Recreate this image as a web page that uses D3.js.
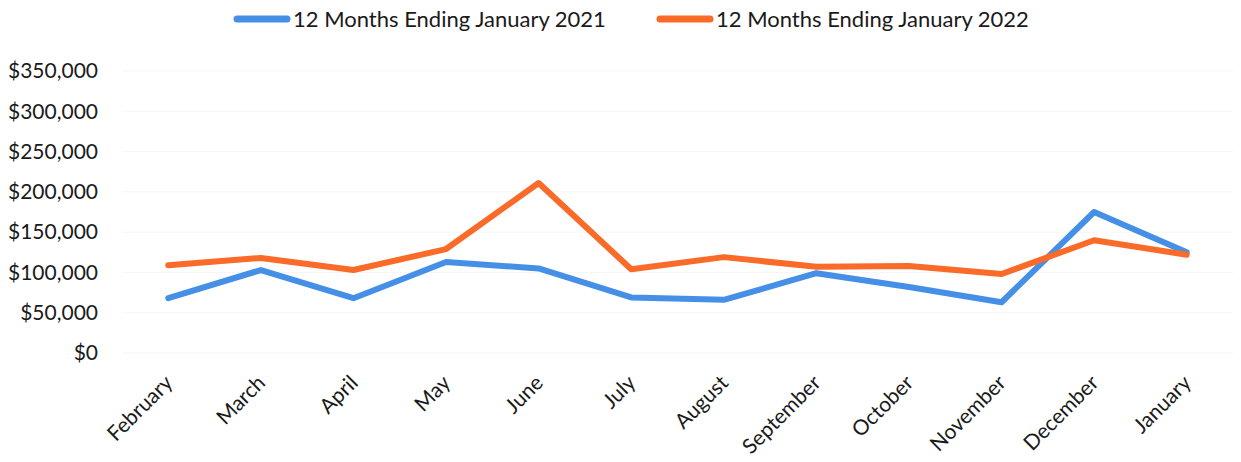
<!DOCTYPE html>
<html>
<head>
<meta charset="utf-8">
<script src="https://cdn.jsdelivr.net/npm/d3@7"></script>
<style>
  body { margin: 0; background: #fff; }
  #chart { width: 1241px; height: 462px; }
  text { font-family: Lato, "Open Sans", sans-serif; fill: #1a1a1a; }
</style>
</head>
<body>
<div id="chart"></div>
<script>
var months = ['February', 'March', 'April', 'May', 'June', 'July', 'August',
  'September', 'October', 'November', 'December', 'January'];
var seriesNames = ['12 Months Ending January 2021', '12 Months Ending January 2022'];
var values2021 = [68000, 103000, 68000, 113000, 105000, 69000, 66000, 99000, 82000, 63000, 175000, 125000];
var values2022 = [109000, 118000, 103000, 129000, 211000, 104000, 119000, 107000, 108000, 98000, 140000, 122000];
var yTicks = [0, 50000, 100000, 150000, 200000, 250000, 300000, 350000];
var colors = ['#4590e6', '#fa6a28'];

function drawChart() {
  var frame = d3.select('#chart');
  frame.html('');
  var margins = { left: 122, right: 8, top: 71, bottom: 109 };
  var frameWidth = 1241 - margins.left - margins.right;
  var frameHeight = 462 - margins.top - margins.bottom;

  var svg = frame.append('svg')
    .attr('width', 1241)
    .attr('height', 462);
  var g = svg.append('g')
    .attr('transform', 'translate(' + margins.left + ',' + margins.top + ')');

  var xScale = d3.scalePoint()
    .domain(months)
    .range([0, frameWidth])
    .padding(0.5);

  var yScale = d3.scaleLinear()
    .domain([0, 350000])
    .range([frameHeight, 0]);

  // faint gridlines
  g.append('g')
    .selectAll('line')
    .data(yTicks)
    .enter().append('line')
      .attr('x1', 0)
      .attr('x2', frameWidth)
      .attr('y1', function(d) { return yScale(d); })
      .attr('y2', function(d) { return yScale(d); })
      .attr('stroke', '#f6f6f6')
      .attr('stroke-width', 1);

  var yAxis = d3.axisLeft(yScale)
    .tickValues(yTicks)
    .tickSize(0)
    .tickPadding(24)
    .tickFormat(function(d) { return '$' + d3.format(',')(d); });

  var yg = g.append('g').call(yAxis);
  yg.select('.domain').remove();
  yg.selectAll('text')
    .style('font-size', '21px')
    .attr('fill', '#1a1a1a');

  var xAxis = d3.axisBottom(xScale).tickSize(0);
  var xg = g.append('g')
    .attr('transform', 'translate(0,' + frameHeight + ')')
    .call(xAxis);
  xg.select('.domain').remove();
  xg.selectAll('text')
    .style('font-size', '21px')
    .attr('fill', '#1a1a1a')
    .attr('text-anchor', 'end')
    .attr('dy', '0.35em')
    .attr('transform', 'translate(0,26) rotate(-45)')
    .attr('y', 0)
    .attr('x', 0);

  var line = d3.line()
    .x(function(d, i) { return xScale(months[i]); })
    .y(function(d) { return yScale(d); });

  [values2021, values2022].forEach(function(vals, k) {
    g.append('path')
      .datum(vals)
      .attr('fill', 'none')
      .attr('stroke', colors[k])
      .attr('stroke-width', 6)
      .attr('stroke-linejoin', 'round')
      .attr('stroke-linecap', 'round')
      .attr('d', line);
  });

  // legend
  var legendX = [233, 656];
  var legend = svg.append('g');
  seriesNames.forEach(function(name, k) {
    legend.append('line')
      .attr('x1', legendX[k] + 4)
      .attr('x2', legendX[k] + 54)
      .attr('y1', 19)
      .attr('y2', 19)
      .attr('stroke', colors[k])
      .attr('stroke-width', 7)
      .attr('stroke-linecap', 'round');
    legend.append('text')
      .attr('x', legendX[k] + 60)
      .attr('y', 19)
      .attr('dy', '0.35em')
      .style('font-size', '22px')
      .text(name);
  });
}

drawChart();
</script>
</body>
</html>
